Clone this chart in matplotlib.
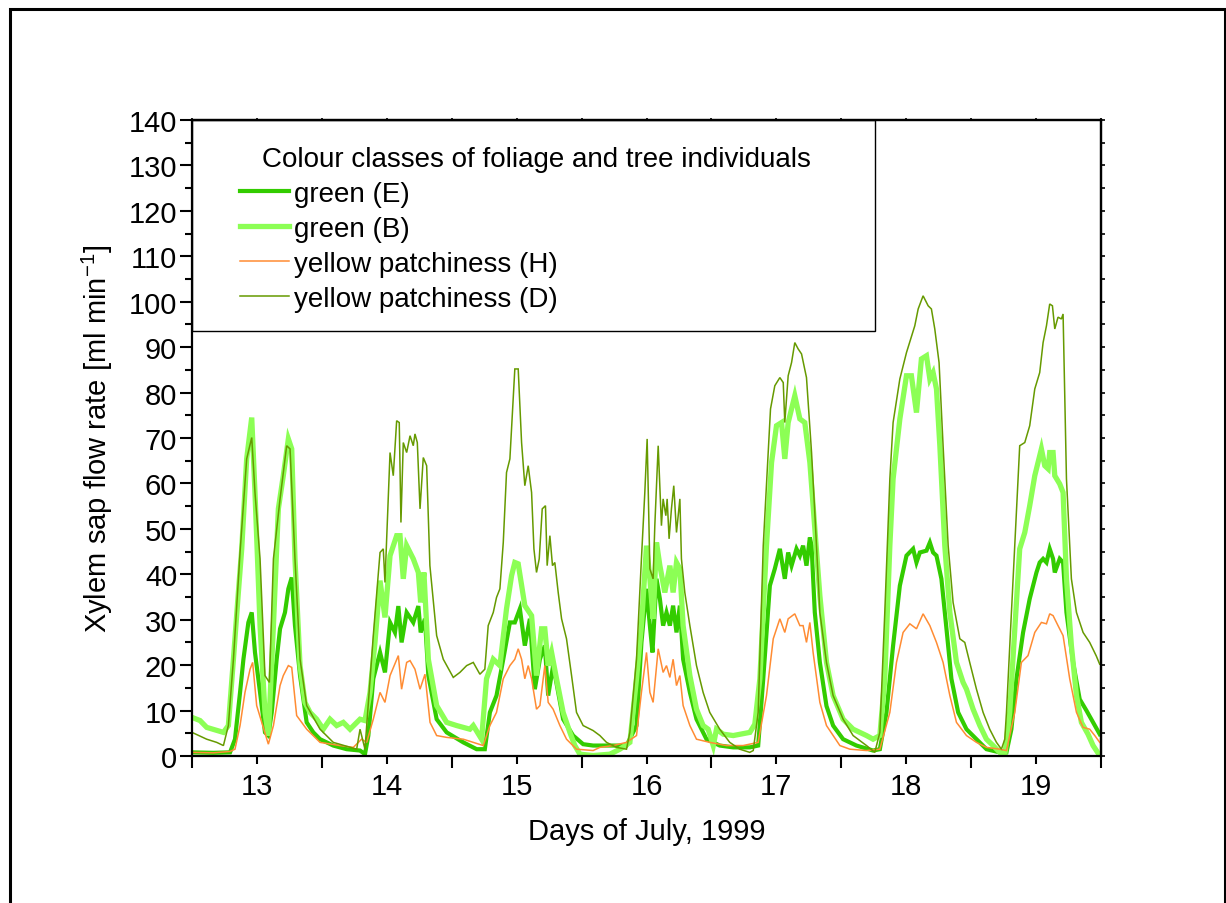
import numpy as np
import matplotlib
matplotlib.use("Agg")
import matplotlib.pyplot as plt
from matplotlib.patches import Rectangle
from matplotlib.ticker import MultipleLocator

plt.rcParams["font.family"] = ["Liberation Sans", "DejaVu Sans"]
plt.rcParams["mathtext.fontset"] = "custom"
plt.rcParams["mathtext.rm"] = "Liberation Sans"
plt.rcParams["mathtext.default"] = "regular"

# time in days of July 1999, sap flow in ml/min
green_e_day = [12.500, 12.665, 12.793, 12.831, 12.870, 12.896, 12.934, 12.960, 12.985, 13.024,
               13.062, 13.088, 13.114, 13.152, 13.178, 13.216, 13.242, 13.268, 13.293, 13.332,
               13.383, 13.434, 13.486, 13.588, 13.691, 13.794, 13.832, 13.858, 13.896, 13.948,
               13.986, 14.025, 14.063, 14.089, 14.114, 14.153, 14.204, 14.243, 14.261, 14.294,
               14.320, 14.384, 14.461, 14.589, 14.692, 14.755, 14.794, 14.845, 14.897, 14.948,
               14.986, 15.025, 15.063, 15.102, 15.140, 15.179, 15.217, 15.243, 15.281, 15.320,
               15.358, 15.435, 15.512, 15.589, 15.718, 15.846, 15.923, 15.961, 16.000, 16.026,
               16.046, 16.077, 16.103, 16.128, 16.154, 16.180, 16.205, 16.231, 16.257, 16.282,
               16.334, 16.385, 16.462, 16.564, 16.668, 16.796, 16.860, 16.899, 16.950, 16.988,
               17.027, 17.065, 17.091, 17.117, 17.155, 17.181, 17.206, 17.232, 17.258, 17.271,
               17.296, 17.335, 17.386, 17.437, 17.514, 17.617, 17.745, 17.797, 17.848, 17.899,
               17.951, 18.002, 18.053, 18.079, 18.105, 18.156, 18.182, 18.207, 18.233, 18.271,
               18.310, 18.348, 18.400, 18.464, 18.541, 18.618, 18.720, 18.772, 18.810, 18.849,
               18.900, 18.951, 19.003, 19.028, 19.054, 19.080, 19.105, 19.131, 19.144, 19.182,
               19.208, 19.234, 19.285, 19.336, 19.388, 19.439, 19.490]
green_e_flow = [0.8, 0.7, 0.8, 3.7, 14.0, 21.3, 29.4, 31.6, 22.8, 14.0,
                5.2, 4.5, 9.6, 21.3, 28.0, 31.6, 36.8, 39.3, 28.7, 17.7,
                7.4, 5.2, 3.7, 2.3, 1.5, 1.2, 0.4, 4.5, 17.0, 22.8,
                18.4, 29.4, 27.2, 33.0, 25.0, 31.6, 29.4, 33.0, 27.2, 30.2,
                17.7, 8.1, 5.2, 3.0, 1.5, 1.5, 9.6, 13.3, 21.3, 29.4,
                29.4, 32.4, 24.3, 30.2, 14.7, 21.3, 24.3, 13.3, 19.9, 14.0,
                8.1, 4.5, 2.6, 2.3, 2.3, 2.3, 6.7, 25.0, 36.8, 28.7,
                22.8, 39.0, 34.6, 28.7, 31.6, 28.7, 33.1, 27.2, 33.1, 21.3,
                14.0, 8.1, 3.7, 2.3, 1.9, 1.9, 2.3, 17.0, 37.5, 41.2,
                45.6, 39.0, 44.8, 41.9, 45.6, 44.1, 46.3, 41.9, 48.1, 46.3,
                31.6, 20.6, 11.0, 6.7, 3.7, 2.3, 1.2, 1.5, 9.6, 24.3,
                37.5, 44.1, 45.6, 42.6, 44.8, 45.2, 47.0, 44.8, 44.1, 39.0,
                28.0, 17.0, 9.6, 5.9, 3.7, 1.5, 0.8, 0.8, 5.9, 17.0,
                27.2, 34.6, 40.4, 42.6, 43.4, 42.6, 45.6, 43.4, 40.4, 43.4,
                42.6, 31.6, 20.6, 12.5, 10.0, 7.4, 4.8]

green_b_day = [12.500, 12.562, 12.613, 12.742, 12.780, 12.819, 12.857, 12.883, 12.921, 12.960,
               12.985, 13.024, 13.062, 13.088, 13.127, 13.165, 13.203, 13.242, 13.268, 13.293,
               13.332, 13.370, 13.409, 13.460, 13.511, 13.563, 13.614, 13.665, 13.717, 13.794,
               13.832, 13.871, 13.909, 13.948, 13.986, 14.025, 14.076, 14.102, 14.127, 14.153,
               14.204, 14.243, 14.261, 14.286, 14.320, 14.384, 14.461, 14.538, 14.640, 14.666,
               14.730, 14.768, 14.820, 14.871, 14.922, 14.961, 14.986, 15.012, 15.063, 15.115,
               15.153, 15.192, 15.217, 15.243, 15.269, 15.307, 15.358, 15.410, 15.448, 15.487,
               15.589, 15.718, 15.795, 15.872, 15.923, 15.961, 16.000, 16.026, 16.051, 16.077,
               16.103, 16.141, 16.180, 16.205, 16.231, 16.257, 16.282, 16.334, 16.385, 16.436,
               16.475, 16.514, 16.539, 16.591, 16.668, 16.796, 16.834, 16.873, 16.924, 16.963,
               17.001, 17.040, 17.065, 17.091, 17.142, 17.181, 17.219, 17.258, 17.296, 17.335,
               17.386, 17.437, 17.514, 17.591, 17.643, 17.694, 17.745, 17.797, 17.835, 17.874,
               17.899, 17.951, 18.002, 18.040, 18.079, 18.117, 18.156, 18.182, 18.207, 18.233,
               18.259, 18.297, 18.336, 18.387, 18.438, 18.464, 18.515, 18.567, 18.618, 18.669,
               18.720, 18.759, 18.797, 18.836, 18.874, 18.913, 18.951, 18.990, 19.028, 19.041,
               19.067, 19.093, 19.105, 19.131, 19.144, 19.182, 19.208, 19.234, 19.272, 19.311,
               19.349, 19.400, 19.439, 19.490]
green_b_flow = [8.5, 7.8, 6.3, 5.2, 6.7, 21.3, 36.0, 45.6, 65.4, 74.5,
                58.0, 28.7, 9.6, 4.5, 28.7, 54.4, 61.7, 69.8, 67.6, 43.4,
                19.9, 11.8, 9.6, 8.1, 5.9, 8.1, 6.7, 7.4, 5.9, 8.1,
                7.8, 14.0, 25.0, 38.6, 30.5, 44.1, 48.5, 48.5, 39.0, 46.3,
                43.4, 40.4, 33.8, 40.4, 21.3, 11.1, 7.4, 6.7, 5.9, 6.7,
                3.7, 17.0, 21.3, 19.9, 32.4, 39.7, 42.6, 42.3, 33.1, 30.9,
                17.7, 28.0, 28.0, 19.9, 22.8, 17.0, 9.6, 5.2, 2.3, 0.4,
                0.1, 0.4, 1.5, 3.0, 17.0, 28.7, 46.3, 39.0, 30.2, 47.0,
                41.9, 36.0, 41.9, 36.0, 42.6, 41.2, 28.7, 17.7, 10.3, 6.7,
                5.9, 2.3, 5.9, 4.8, 4.5, 5.2, 7.0, 17.0, 46.3, 64.6,
                72.7, 73.4, 65.4, 73.4, 79.3, 74.2, 73.4, 64.6, 50.0, 35.3,
                20.6, 13.3, 8.1, 5.9, 5.2, 4.5, 3.7, 4.5, 17.0, 46.3,
                61.0, 74.2, 83.7, 83.7, 75.6, 87.4, 88.1, 83.0, 84.4, 80.8,
                68.3, 46.3, 31.6, 20.6, 16.2, 14.7, 10.3, 6.7, 3.7, 2.3,
                0.8, 0.1, 9.6, 28.0, 45.6, 49.2, 55.1, 61.7, 66.1, 67.6,
                63.9, 63.2, 66.8, 66.8, 61.7, 59.9, 58.0, 39.0, 24.3, 13.3,
                7.4, 4.8, 2.3, 0.1]

yellow_h_day = [12.500, 12.665, 12.793, 12.831, 12.870, 12.908, 12.947, 12.967, 12.998, 13.037,
                13.088, 13.127, 13.178, 13.203, 13.242, 13.268, 13.306, 13.383, 13.486, 13.640,
                13.742, 13.806, 13.845, 13.896, 13.948, 13.986, 14.025, 14.089, 14.114, 14.153,
                14.179, 14.217, 14.256, 14.294, 14.333, 14.384, 14.461, 14.589, 14.666, 14.743,
                14.794, 14.845, 14.897, 14.948, 14.986, 15.012, 15.038, 15.063, 15.089, 15.115,
                15.153, 15.179, 15.217, 15.243, 15.281, 15.333, 15.384, 15.461, 15.589, 15.641,
                15.743, 15.846, 15.923, 15.961, 16.000, 16.026, 16.051, 16.090, 16.128, 16.154,
                16.180, 16.205, 16.231, 16.257, 16.282, 16.334, 16.385, 16.487, 16.616, 16.744,
                16.860, 16.924, 16.976, 17.027, 17.065, 17.091, 17.142, 17.181, 17.206, 17.232,
                17.258, 17.283, 17.335, 17.386, 17.489, 17.566, 17.694, 17.797, 17.874, 17.925,
                17.976, 18.028, 18.079, 18.130, 18.182, 18.233, 18.284, 18.336, 18.387, 18.464,
                18.541, 18.618, 18.720, 18.772, 18.836, 18.887, 18.938, 18.990, 19.041, 19.080,
                19.105, 19.131, 19.169, 19.208, 19.259, 19.311, 19.362, 19.413, 19.452, 19.490]
yellow_h_flow = [0.8, 0.7, 1.0, 1.5, 6.7, 14.0, 19.1, 20.6, 11.1, 7.4,
                 2.6, 6.7, 15.5, 17.7, 19.9, 19.5, 8.9, 5.9, 3.0, 2.3,
                 1.9, 3.7, 3.0, 8.1, 14.0, 11.8, 17.7, 22.1, 14.7, 20.6,
                 21.0, 19.1, 14.7, 18.0, 7.4, 4.5, 4.1, 3.7, 3.0, 2.3,
                 6.7, 9.6, 17.0, 19.9, 21.3, 23.6, 21.3, 17.0, 19.9, 17.0,
                 10.3, 11.1, 19.9, 11.8, 10.3, 6.7, 3.7, 1.5, 1.2, 1.9,
                 2.3, 3.0, 4.5, 14.0, 22.8, 14.0, 11.8, 23.6, 18.4, 19.9,
                 17.3, 21.3, 15.5, 17.7, 11.1, 6.7, 3.7, 3.0, 2.3, 2.3,
                 3.0, 13.3, 25.8, 30.2, 27.2, 30.2, 31.3, 28.7, 28.7, 25.0,
                 29.4, 22.8, 11.8, 6.7, 2.3, 1.5, 1.2, 1.5, 9.6, 20.6,
                 27.2, 29.1, 28.0, 31.3, 28.7, 25.0, 20.6, 13.3, 7.4, 4.5,
                 3.0, 1.9, 1.5, 1.2, 9.6, 20.6, 22.1, 27.2, 29.4, 29.1,
                 31.3, 30.9, 28.7, 26.5, 17.0, 9.6, 6.3, 5.9, 4.5, 3.0]

yellow_d_day = [12.500, 12.613, 12.690, 12.742, 12.780, 12.819, 12.870, 12.921, 12.960, 12.985,
                13.024, 13.062, 13.096, 13.127, 13.178, 13.229, 13.255, 13.293, 13.332, 13.383,
                13.486, 13.588, 13.768, 13.794, 13.832, 13.896, 13.948, 13.973, 13.986, 14.025,
                14.050, 14.076, 14.096, 14.109, 14.127, 14.153, 14.179, 14.204, 14.217, 14.235,
                14.256, 14.281, 14.307, 14.332, 14.384, 14.435, 14.512, 14.563, 14.615, 14.666,
                14.717, 14.755, 14.781, 14.820, 14.845, 14.871, 14.897, 14.922, 14.948, 14.986,
                15.012, 15.038, 15.063, 15.089, 15.115, 15.133, 15.153, 15.174, 15.197, 15.222,
                15.235, 15.256, 15.276, 15.294, 15.320, 15.346, 15.384, 15.423, 15.461, 15.512,
                15.589, 15.641, 15.692, 15.769, 15.846, 15.872, 15.923, 15.961, 15.987, 16.005,
                16.026, 16.051, 16.064, 16.090, 16.115, 16.128, 16.149, 16.159, 16.174, 16.192,
                16.210, 16.231, 16.257, 16.269, 16.295, 16.334, 16.385, 16.436, 16.487, 16.564,
                16.641, 16.718, 16.795, 16.822, 16.860, 16.899, 16.955, 16.988, 17.027, 17.053,
                17.065, 17.091, 17.117, 17.142, 17.168, 17.194, 17.232, 17.271, 17.296, 17.335,
                17.386, 17.437, 17.514, 17.591, 17.694, 17.758, 17.797, 17.835, 17.874, 17.899,
                17.951, 18.002, 18.066, 18.092, 18.130, 18.169, 18.194, 18.220, 18.253, 18.284,
                18.323, 18.361, 18.413, 18.451, 18.489, 18.541, 18.592, 18.643, 18.695, 18.733,
                18.759, 18.772, 18.823, 18.874, 18.913, 18.951, 18.990, 19.028, 19.054, 19.080,
                19.105, 19.126, 19.144, 19.169, 19.195, 19.208, 19.234, 19.272, 19.311, 19.362,
                19.413, 19.464, 19.490]
yellow_d_flow = [5.2, 3.7, 3.0, 2.3, 6.7, 21.3, 44.8, 65.4, 70.1, 58.0,
                 43.4, 17.7, 16.2, 43.4, 56.6, 68.3, 67.6, 43.4, 21.3, 11.1,
                 5.9, 3.0, 1.5, 5.9, 1.5, 26.5, 44.8, 45.6, 38.2, 66.8,
                 61.7, 73.8, 73.4, 51.4, 69.0, 66.8, 70.5, 68.3, 70.9, 69.0,
                 54.4, 65.7, 63.9, 41.9, 26.5, 21.3, 17.3, 18.4, 19.9, 20.6,
                 18.0, 19.1, 28.7, 31.6, 34.9, 36.8, 47.0, 62.4, 65.4, 85.2,
                 85.2, 69.0, 59.5, 63.9, 58.0, 45.6, 40.4, 43.4, 54.4, 55.1,
                 41.9, 48.5, 41.9, 42.6, 36.0, 30.2, 25.8, 17.7, 9.6, 6.7,
                 5.6, 4.5, 3.0, 1.9, 1.5, 5.2, 21.3, 43.4, 58.0, 69.8,
                 41.2, 39.0, 50.7, 68.3, 50.7, 56.6, 52.9, 56.6, 47.8, 54.4,
                 59.5, 49.2, 56.6, 43.4, 36.0, 28.7, 19.9, 14.0, 9.6, 5.9,
                 3.0, 1.5, 0.8, 1.2, 9.6, 46.3, 76.4, 81.5, 83.3, 82.2,
                 73.4, 83.7, 86.6, 91.0, 89.6, 88.5, 83.3, 66.8, 53.6, 31.6,
                 20.6, 13.3, 8.1, 4.5, 2.3, 0.8, 5.2, 31.6, 61.0, 73.4,
                 83.0, 88.8, 94.7, 98.4, 101.3, 99.1, 98.4, 94.0, 86.6, 68.3,
                 46.3, 33.8, 25.8, 25.0, 20.6, 14.7, 9.6, 5.9, 3.0, 1.5,
                 3.7, 9.6, 39.0, 68.3, 69.0, 72.7, 80.8, 84.4, 91.0, 94.7,
                 99.5, 99.1, 94.0, 96.6, 96.2, 97.3, 61.0, 39.0, 31.6, 27.2,
                 25.0, 22.0, 20.2]

series_labels = ["green (E)", "green (B)", "yellow patchiness (H)", "yellow patchiness (D)"]
series_colors = ["#33cc00", "#8cff55", "#ff8c33", "#669a00"]
series_widths = [3.0, 3.8, 1.1, 1.1]
legend_title = "Colour classes of foliage and tree individuals"
day_ticks = [13, 14, 15, 16, 17, 18, 19]

W, H = 1226, 904
fig = plt.figure(figsize=(W / 100, H / 100), dpi=100)
ax = fig.add_axes([192 / W, (H - 757) / H, 909 / W, 636 / H])

series = [(green_e_day, green_e_flow), (green_b_day, green_b_flow),
          (yellow_h_day, yellow_h_flow), (yellow_d_day, yellow_d_flow)]
handles = []
for (d, f), lab, col, lw in zip(series, series_labels, series_colors, series_widths):
    ln, = ax.plot(d, f, color=col, lw=lw, label=lab, solid_joinstyle="miter")
    handles.append(ln)

ax.set_xlim(12.5, 19.5)
ax.set_ylim(0, 140)

# x: labelled ticks at noon (short), long ticks at midnight
ax.set_xticks(day_ticks)
ax.set_xticklabels([str(d) for d in day_ticks])
ax.xaxis.set_minor_locator(MultipleLocator(0.5))
ax.yaxis.set_major_locator(MultipleLocator(10))
ax.yaxis.set_minor_locator(MultipleLocator(5))
ax.tick_params(axis="x", which="major", direction="out", length=5.8, width=1.5,
               labelsize=21, pad=6)
ax.tick_params(axis="x", which="minor", direction="out", length=8.6, width=1.5)
ax.tick_params(axis="y", which="major", direction="out", length=8.6, width=1.5,
               labelsize=21, pad=2)
ax.tick_params(axis="y", which="minor", direction="out", length=4.8, width=1.5)

top = ax.secondary_xaxis("top")
top.set_xticks(np.arange(12.5, 19.51, 0.5))
top.set_xticklabels([])
top.tick_params(direction="out", length=1.5, width=1.2)
right = ax.secondary_yaxis("right")
right.set_yticks(np.arange(0, 141, 5))
right.set_yticklabels([])
right.tick_params(direction="out", length=3, width=1.2)

for sp in list(ax.spines.values()) + [top.spines["top"], right.spines["right"]]:
    sp.set_linewidth(1.6)

ax.set_xlabel("Days of July, 1999", fontsize=21, labelpad=12)
ax.set_ylabel("Xylem sap flow rate [ml min$^{-1}$]", fontsize=21, labelpad=10)

# legend box in the upper left corner
ax.add_patch(Rectangle((0, 0.668), 0.7514, 0.332, transform=ax.transAxes,
                       fill=False, edgecolor="black", lw=1.0, zorder=5))
ax.text(0.077, 0.9387, legend_title, transform=ax.transAxes, fontsize=20,
        ha="left", va="center", zorder=6)
ax.legend(handles=handles, loc="upper left", bbox_to_anchor=(0.0528, 0.904),
          frameon=False, fontsize=20, handlelength=1.75, handletextpad=0.2,
          labelspacing=0.32, borderpad=0, borderaxespad=0)

# outer frame around the whole picture
fig.patches.append(Rectangle((10 / W, -0.05), (1225 - 10) / W, 1 - 10 / H + 0.05,
                             transform=fig.transFigure, fill=False,
                             edgecolor="black", lw=2.2, clip_on=False))

fig.savefig("out.png", dpi=100)
